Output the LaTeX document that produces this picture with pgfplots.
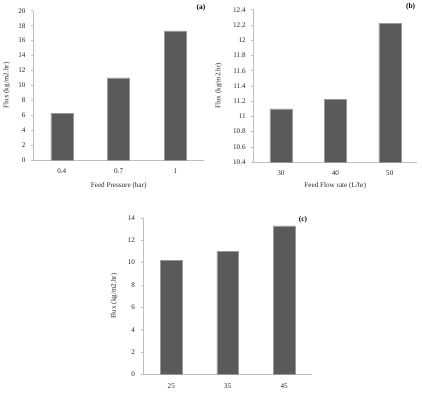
\documentclass[border=0pt]{standalone}
\usepackage{pgfplots}
\pgfplotsset{compat=1.18}
\usepackage{fontspec}
\setmainfont{Liberation Serif}
\definecolor{barfill}{HTML}{5A5A5A}
\definecolor{axgray}{HTML}{BFBFBF}
\pgfplotsset{
  myax/.style={
    scale only axis,
    axis x line*=bottom, axis y line*=left,
    axis line style={axgray, line width=0.8pt},
    xmin=-0.5, xmax=2.5, xtick=data,
    xtick style={draw=none},
    ytick style={axgray, line width=0.6pt},
    tick align=outside, major tick length=2.5bp,
    tick label style={font=\fontsize{7.2}{8}\selectfont, text=black!85},
    label style={font=\fontsize{7.2}{8}\selectfont, text=black!85},
    /pgf/number format/assume math mode=true,
    ybar, bar width=22bp,
    enlarge x limits=false,
    xticklabel style={yshift=-3bp},
    yticklabel style={xshift=-2bp},
    clip=false,
  },
  mybar/.style={fill=barfill, draw=black!40, line width=0.4pt},
}
\begin{document}
\begin{tikzpicture}
\path (0,0) rectangle (422bp,395bp);
% (a)
\begin{axis}[myax, at={(32bp,236bp)}, anchor=south west,
  width=171bp, height=150bp,
  ymin=0, ymax=20, ytick={0,2,...,20},
  xticklabels={0.4,0.7,1},
  ylabel={Flux (kg/m2.hr)}, ylabel style={at={([xshift=-27bp]axis description cs:0,0.5)}, anchor=center},
  xlabel={Feed Pressure (bar)}, xlabel style={at={([yshift=-26bp]axis description cs:0.5,0)}, anchor=center}]
\addplot[mybar] coordinates {(0,6.3) (1,11.0) (2,17.3)};
\node[anchor=east, font=\fontsize{7.5}{8}\selectfont\bfseries] at (axis description cs:1.03,1.02) {(a)};
\end{axis}
% (b)
\begin{axis}[myax, at={(253bp,234bp)}, anchor=south west,
  width=164bp, height=153bp,
  ymin=10.4, ymax=12.4, ytick={10.4,10.6,...,12.41},
  yticklabel style={/pgf/number format/fixed, /pgf/number format/precision=1},
  xticklabels={30,40,50},
  ylabel={Flux (kg/m2.hr)}, ylabel style={at={([xshift=-35bp]axis description cs:0,0.5)}, anchor=center},
  xlabel={Feed Flow rate (L/hr)}, xlabel style={at={([yshift=-24bp]axis description cs:0.5,0)}, anchor=center}]
\addplot[mybar] coordinates {(0,11.1) (1,11.22) (2,12.22)};
\node[anchor=east, font=\fontsize{7.5}{8}\selectfont\bfseries] at (axis description cs:1.01,1.02) {(b)};
\end{axis}
% (c)
\begin{axis}[myax, at={(142bp,21bp)}, anchor=south west,
  width=170bp, height=157bp,
  ymin=0, ymax=14, ytick={0,2,...,14},
  xticklabels={25,35,45},
  ylabel={Flux (kg/m2.hr)}, ylabel style={at={([xshift=-29bp]axis description cs:0,0.5)}, anchor=center}]
\addplot[mybar] coordinates {(0,10.2) (1,11.0) (2,13.3)};
\node[anchor=east, font=\fontsize{7.5}{8}\selectfont\bfseries] at (axis description cs:0.99,0.99) {(c)};
\end{axis}
\end{tikzpicture}
\end{document}
